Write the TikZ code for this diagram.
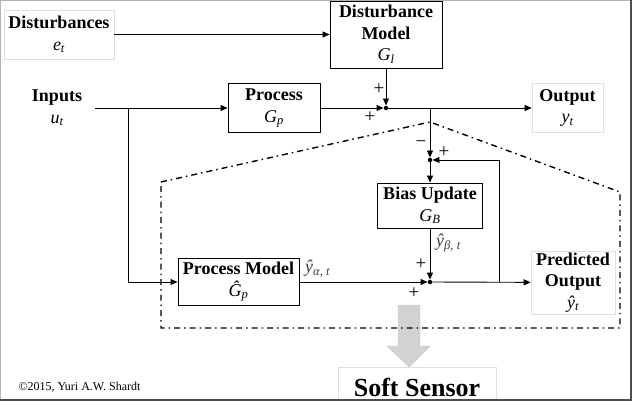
\documentclass[tikz,border=0pt]{standalone}
\usepackage{fontspec}
\setmainfont{Liberation Serif}
\usetikzlibrary{positioning, arrows.meta, calc}

\newcommand{\sig}[2]{{\mdseries\itshape #1}\textsubscript{\mdseries\itshape #2}}

\begin{document}
\begin{tikzpicture}[
                x=1pt, y=-1pt,
                font=\fontsize{18}{21.5}\selectfont\bfseries,
                flow/.style={-{Triangle[length=7pt, width=6pt]}, line width=0.9pt},
                block/.style={rectangle, draw, line width=0.9pt, align=center, inner sep=0pt},
                io_node/.style={rectangle, draw=gray!25, line width=0.6pt, align=center, inner sep=0pt},
                sign/.style={font=\fontsize{19}{19}\selectfont\mdseries, inner sep=0pt},
                sig_label/.style={font=\fontsize{18}{18}\selectfont\mdseries\itshape, text=black!75, anchor=west, inner sep=0pt},
                junction/.style={circle, fill, inner sep=0pt, minimum size=4.5pt},
                boundary/.style={line width=1.4pt, dash pattern=on 6pt off 4pt on 1.5pt off 4pt}
            ]
                \useasboundingbox (0,0) rectangle (632,401);

                % Plant
                \node[io_node, minimum width=110pt, minimum height=49pt] (dist) at (59,34.5) {Disturbances\\\sig{e}{t}};
                \node[block, minimum width=112pt, minimum height=67pt] (dmodel) at (386,34.5) {Disturbance\\Model\\\sig{G}{l}};
                \node[align=center, inner sep=0pt, minimum width=76pt] (inputs) at (57,108) {Inputs\\\sig{u}{t}};
                \node[block, minimum width=92pt, minimum height=49pt] (proc) at (274,108) {Process\\\sig{G}{p}};
                \node[io_node, minimum width=71pt, minimum height=49pt] (output) at (567.5,108) {Output\\\sig{y}{t}};
                \node[junction] (sum_out) at (386,108) {};
                \coordinate (split_u) at (128,108);
                \coordinate (split_y) at (430,108);

                \draw[flow] (dist.east) -- (dist.east -| dmodel.west);
                \draw[flow] (dmodel) -- (sum_out);
                \draw[flow] (inputs.east) -- (proc.west);
                \draw[flow] (proc) -- (sum_out);
                \draw[flow] (sum_out) -- (output);
                \node[sign] at (379,89) {+};
                \node[sign] at (370,117) {+};

                % Soft sensor
                \fill[gray!35, draw=gray!45] (398,305) -- (420,305) -- (420,346) -- (430,346) -- (409,367) -- (387,346) -- (398,346) -- cycle;
                \node[block, minimum width=121pt, minimum height=47pt] (pmodel) at (238.5,282) {Process Model\\\sig{\^{G}}{p}};
                \node[block, minimum width=105pt, minimum height=45pt] (bias) at (430,205.5) {Bias Update\\\sig{G}{B}};
                \node[io_node, minimum width=84pt, minimum height=63pt] (pred) at (573,282.5) {Predicted\\Output\\\sig{ŷ}{t}};
                \node[junction] (sum_bias) at (430,160) {};
                \node[junction] (sum_pred) at (430,282) {};
                \coordinate (split_p) at (499,282);

                \draw[flow] (split_u) |- (pmodel.west);
                \draw[flow] (split_y) -- (sum_bias);
                \draw[flow] (sum_bias) -- (bias);
                \draw[flow] (bias) -- (sum_pred);
                \draw[flow] (pmodel) -- (sum_pred);
                \draw[flow] (sum_pred) -- (pred);
                \draw[flow] (split_p) |- (sum_bias);
                \node[sign] at (421,144) {−};
                \node[sign] at (444,152) {+};
                \node[sign] at (421,264) {+};
                \node[sign] at (414,293) {+};
                \node[sig_label] at (305,269) {ŷ\textsubscript{α, t}};
                \node[sig_label] at (436,243) {ŷ\textsubscript{β, t}};

                \draw[boundary] (161,182) -- (430,122) -- (620,192) -- (620,328) -- (161,328) -- cycle;

                \node[io_node, minimum width=158pt, minimum height=40pt] (soft) at (417,387) {\fontsize{26}{28}\selectfont Soft Sensor};
                \node[anchor=west, font=\fontsize{12}{14}\selectfont] (credit) at (15,387) {©2015, Yuri A.W. Shardt};

                % frame
                \draw[gray!60, line width=1pt] (0.5,0.5) rectangle (631,400);
                \draw[black!70, line width=2pt] (631,0) -- (631,401) (0,400) -- (632,400);
            \end{tikzpicture}
\end{document}
